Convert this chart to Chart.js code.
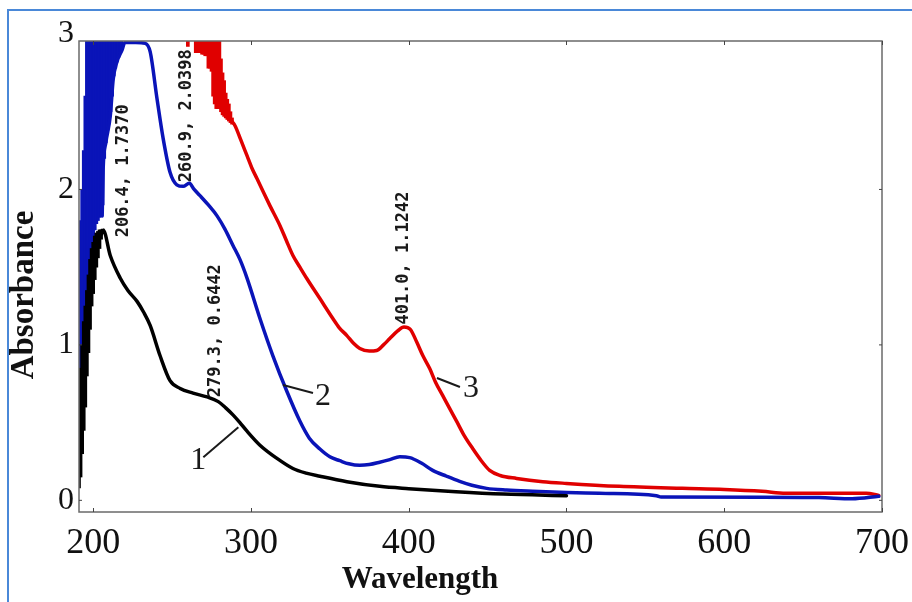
<!DOCTYPE html>
<html><head><meta charset="utf-8">
<script src="https://cdn.jsdelivr.net/npm/chart.js@4.4.1/dist/chart.umd.min.js"></script>
<style>
html,body{margin:0;padding:0;background:#fff;}
#wrap{position:relative;width:912px;height:602px;overflow:hidden;background:#fff;}
#frame{position:absolute;left:7px;top:9px;width:920px;height:640px;border:2px solid #4a88d8;pointer-events:none;}
canvas{position:absolute;left:0;top:0;}
</style></head><body>
<div id="wrap"><canvas id="c" width="912" height="602"></canvas><div id="frame"></div></div>
<script>
// ---- axis tick labels and titles ----
const xTicks = [200, 300, 400, 500, 600, 700];
const yTicks = [0, 1, 2, 3];
const xTitle = 'Wavelength';
const yTitle = 'Absorbance';

// ---- curve 1 (black) ----
// noisy range below 206 nm (min / max absorbance at each wavelength)
const band1Wl   = [191,192,193,194,195,196,197,198,199,200,201,202,203,204,205,206];
const band1Low  = [0.08,0.15,0.3,0.45,0.6,0.8,0.95,1.1,1.25,1.33,1.42,1.5,1.56,1.62,1.68,1.72];
const band1High = [0.6,0.85,1.0,1.15,1.25,1.35,1.45,1.55,1.62,1.66,1.7,1.72,1.73,1.74,1.74,1.745];
const wl1  = [205,206.4,210.8,217.1,222,227.8,232,236.1,242.4,248.7,255.1,263.3,272.2,279.3,284,288.6,293,297.5,305.7,316.5,326.6,335,343.7,360.8,381.6,400,430,460,500];
const abs1 = [1.71,1.737,1.575,1.43,1.35,1.28,1.21,1.125,0.93,0.77,0.72,0.69,0.665,0.635,0.595,0.55,0.5,0.445,0.355,0.27,0.205,0.175,0.155,0.12,0.09,0.075,0.055,0.04,0.03];

// ---- curve 2 (blue) ----
const band2Wl   = [191,192,193,194,195,196,197,198,199,200,201,202,203,204,205,206,207,208,209,210,211,212,213,214,215,216,217,218];
const band2Low  = [0.5,0.6,0.75,0.9,1.05,1.2,1.35,1.5,1.6,1.68,1.74,1.78,1.8,1.82,1.83,1.9,2.2,2.3,2.38,2.43,2.5,2.6,2.73,2.78,2.82,2.85,2.88,2.9];
const band2High = [1.65,1.8,2.0,2.25,2.6,3.1,3.1,3.1,3.1,3.1,3.1,3.1,3.1,3.1,3.1,3.1,3.1,3.1,3.1,3.1,3.1,3.1,3.1,3.1,3.1,3.1,3.1,3.1];
const wl2  = [205.7,206.3,208,210.8,212.7,215,218.4,220,227,233,236.1,240.5,244.3,248.7,253,257,260.9,264,267.7,273,278.5,283.5,288.6,293,297.5,305.7,313.9,322.8,331,337,343.7,350,356.3,362,369,375,381.6,388,394.3,400.6,408,415.2,424,432.3,440,449.4,462,478.5,500,520.9,557,560,624,660,681,698];
const abs2 = [1.83,2.13,2.3,2.47,2.71,2.82,2.9,2.945,2.945,2.94,2.886,2.58,2.33,2.11,2.03,2.02,2.04,2.0,1.96,1.9,1.83,1.745,1.64,1.55,1.43,1.17,0.93,0.70,0.51,0.4,0.33,0.28,0.255,0.235,0.225,0.23,0.245,0.262,0.28,0.275,0.24,0.193,0.155,0.122,0.097,0.077,0.066,0.058,0.05,0.045,0.03,0.022,0.02,0.018,0.01,0.026];

// ---- curve 3 (red) ----
const band3Wl   = [260,265,266,267,268,269,270,271,272,273,274,275,276,277,278,279,280,281,282,283,284,285,286,287,288];
const band3Low  = [2.92,2.88,2.88,2.88,2.88,2.87,2.87,2.86,2.86,2.78,2.78,2.76,2.6,2.55,2.52,2.52,2.52,2.5,2.48,2.47,2.46,2.45,2.44,2.43,2.42];
const band3High = [3.1,3.1,3.1,3.1,3.1,3.1,3.1,3.1,3.1,3.1,3.1,3.1,3.1,3.1,3.1,3.1,3.1,2.84,2.75,2.7,2.62,2.58,2.55,2.5,2.46];
const wl3  = [287,289.9,293.5,297.5,300.5,303.8,308,312,318.4,322.5,326.6,331,335.4,343.7,351.9,356,360.8,365,369,375,379.7,384,388,393,397,401,405,409,413.3,417,421.5,426,430.4,435,440.5,446,451.3,458,468.4,485,500,533.5,573.4,600,624,639,690,698];
const abs3 = [2.45,2.41,2.32,2.217,2.14,2.07,1.98,1.896,1.767,1.67,1.575,1.5,1.427,1.298,1.17,1.11,1.06,1.01,0.977,0.96,0.964,1.0,1.041,1.09,1.115,1.1,1.02,0.93,0.848,0.76,0.675,0.59,0.508,0.42,0.334,0.255,0.193,0.16,0.141,0.12,0.109,0.09,0.077,0.07,0.058,0.045,0.045,0.032];

// ---- peak annotations (wavelength, absorbance) ----
const peakWl = [206.4, 260.9, 279.3, 401.0];
const peakAbs = [1.7370, 2.0398, 0.6442, 1.1242];
const peakOffsets = [{dx:20,dy:7},{dx:-3,dy:-1},{dx:-3,dy:-3},{dx:-7,dy:-1}];

// ---- curve number labels ----
const curveNames = ['1','2','3'];
const curveAnchorWl = [292, 320.3, 417.9];
const curveAnchorAbs = [0.47, 0.742, 0.787];
const curveLabelStyle = [{lx:-35,ly:30,tx:-40,ty:33},{lx:30,ly:8,tx:40,ty:12},{lx:23,ly:9,tx:34,ty:11}];

const BLACK = '#000000', BLUE = '#0a14b8', RED = '#e00000';
const toPts = (xs, ys) => xs.map((x, i) => ({x: x, y: ys[i]}));
const toBand = (xs, lo, hi) => xs.map((x, i) => ({x: x, y: [lo[i], hi[i]]}));
const lineDs = (lbl, d, c, o) => ({type: 'line', label: lbl, data: d, borderColor: c, backgroundColor: c, borderWidth: 3.5, pointRadius: 0, order: o, cubicInterpolationMode: 'monotone', borderJoinStyle: 'round', borderCapStyle: 'round'});
const bandDs = (lbl, d, c, o) => ({type: 'bar', label: lbl, data: d, backgroundColor: c, borderWidth: 0, barThickness: 3, grouped: false, order: o});

const decor = {
  id: 'decor',
  afterDatasetsDraw(chart) {
    const {ctx, chartArea: a, scales: {x, y}} = chart;
    ctx.save();
    ctx.strokeStyle = '#6a6a6a';
    ctx.lineWidth = 1.5;
    ctx.strokeRect(a.left, a.top, a.right - a.left, a.bottom - a.top);
    ctx.lineWidth = 1;
    ctx.strokeStyle = '#444';
    xTicks.forEach(v => {
      const px = Math.round(x.getPixelForValue(v)) + 0.5;
      ctx.beginPath(); ctx.moveTo(px, a.bottom); ctx.lineTo(px, a.bottom - 4); ctx.stroke();
      ctx.beginPath(); ctx.moveTo(px, a.top); ctx.lineTo(px, a.top + 4); ctx.stroke();
    });
    yTicks.forEach(v => {
      const py = y.getPixelForValue(v);
      if (py < a.top || py > a.bottom) return;
      ctx.beginPath(); ctx.moveTo(a.left, py); ctx.lineTo(a.left + 3, py); ctx.stroke();
      ctx.beginPath(); ctx.moveTo(a.right, py); ctx.lineTo(a.right - 3, py); ctx.stroke();
    });
    // axis titles
    ctx.fillStyle = '#111';
    ctx.textBaseline = 'middle';
    ctx.textAlign = 'center';
    ctx.font = 'bold 31px "Liberation Serif"';
    ctx.fillText(xTitle, 420, 580);
    ctx.save();
    ctx.translate(24, 295);
    ctx.rotate(-Math.PI / 2);
    ctx.font = 'bold 33px "Liberation Serif"';
    ctx.fillText(yTitle, 0, 0);
    ctx.restore();
    // peak annotations
    ctx.fillStyle = '#1a1a1a';
    ctx.font = 'bold 17px "DejaVu Sans Mono"';
    ctx.textAlign = 'left';
    peakWl.forEach((w, i) => {
      const px = x.getPixelForValue(w) + peakOffsets[i].dx;
      const py = y.getPixelForValue(peakAbs[i]) + peakOffsets[i].dy;
      ctx.save();
      ctx.translate(px, py);
      ctx.rotate(-Math.PI / 2);
      ctx.fillText(w.toFixed(1) + ', ' + peakAbs[i].toFixed(4), 0, 0);
      ctx.restore();
    });
    // curve number labels with leader lines
    ctx.strokeStyle = '#1a1a1a';
    ctx.lineWidth = 2;
    ctx.font = '32px "Liberation Serif"';
    ctx.textAlign = 'center';
    curveNames.forEach((n, i) => {
      const px = x.getPixelForValue(curveAnchorWl[i]);
      const py = y.getPixelForValue(curveAnchorAbs[i]);
      const s = curveLabelStyle[i];
      ctx.beginPath(); ctx.moveTo(px, py); ctx.lineTo(px + s.lx, py + s.ly); ctx.stroke();
      ctx.fillText(n, px + s.tx, py + s.ty);
    });
    ctx.restore();
  }
};

new Chart(document.getElementById('c'), {
  type: 'line',
  data: {
    datasets: [
      lineDs('1', toPts(wl1, abs1), BLACK, 0),
      bandDs('1 noise', toBand(band1Wl, band1Low, band1High), BLACK, 0),
      lineDs('2', toPts(wl2, abs2), BLUE, 1),
      bandDs('2 noise', toBand(band2Wl, band2Low, band2High), BLUE, 1),
      lineDs('3', toPts(wl3, abs3), RED, 2),
      bandDs('3 noise', toBand(band3Wl, band3Low, band3High), RED, 2)
    ]
  },
  options: {
    responsive: false,
    animation: false,
    devicePixelRatio: 1,
    layout: {padding: {left: 0, right: 30, top: 41, bottom: 0}},
    plugins: {legend: {display: false}, tooltip: {enabled: false}},
    scales: {
      x: {
        type: 'linear', min: 191, max: 700, offset: false,
        afterBuildTicks: s => { s.ticks = xTicks.map(v => ({value: v})); },
        afterFit: s => { s.height = 90; s.paddingLeft = 0; s.paddingRight = 0; },
        grid: {display: false, drawTicks: false, offset: false},
        border: {display: false},
        ticks: {color: '#111', padding: 10, font: {family: '"Liberation Serif"', size: 36}, maxRotation: 0, autoSkip: false}
      },
      y: {
        type: 'linear', min: -0.075, max: 2.955,
        afterBuildTicks: s => { s.ticks = yTicks.map(v => ({value: v})); },
        afterFit: s => { s.width = 79; s.paddingTop = 0; s.paddingBottom = 0; },
        grid: {display: false, drawTicks: false},
        border: {display: false},
        ticks: {color: '#111', padding: 5, font: {family: '"Liberation Serif"', size: 32}, autoSkip: false}
      }
    }
  },
  plugins: [decor]
});
</script>
</body></html>
